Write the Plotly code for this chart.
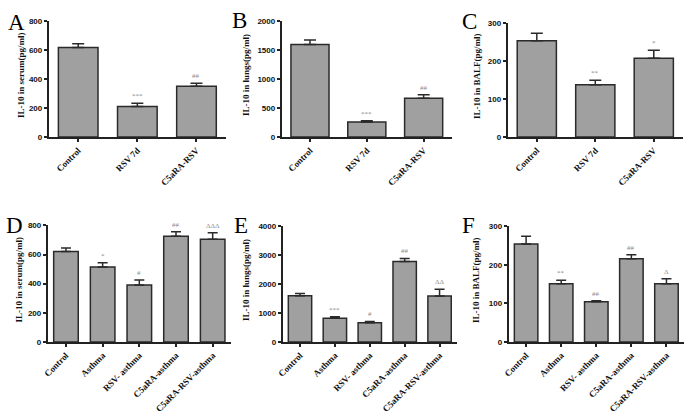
import plotly.graph_objects as go

cats_top = ["Control", "RSV 7d", "C5aRA-RSV"]
cats_bot = ["Control", "Asthma", "RSV- asthma", "C5aRA-asthma", "C5aRA-RSV-asthma"]

a_vals = [620, 212, 352]
a_err = [25, 22, 20]
a_sig = ["", "***", "##"]

b_vals = [1600, 258, 670]
b_err = [80, 25, 60]
b_sig = ["", "***", "##"]

c_vals = [254, 138, 208]
c_err = [20, 12, 21]
c_sig = ["", "**", "*"]

d_vals = [620, 515, 390, 725, 705]
d_err = [25, 28, 35, 32, 45]
d_sig = ["", "*", "#", "##", "ΔΔΔ"]

e_vals = [1600, 820, 660, 2780, 1590]
e_err = [80, 50, 50, 110, 230]
e_sig = ["", "***", "#", "##", "ΔΔ"]

f_vals = [254, 151, 104, 216, 151]
f_err = [20, 9, 3, 10, 13]
f_sig = ["", "**", "##", "##", "Δ"]

y_titles = ["IL-10 in serum(pg/ml)", "IL-10 in lungs(pg/ml)", "IL-10 in BALF(pg/ml)",
            "IL-10 in serum(pg/ml)", "IL-10 in lungs(pg/ml)", "IL-10 in BALF(pg/ml)"]
letters = ["A", "B", "C", "D", "E", "F"]
y_ranges = [800, 2000, 300, 800, 4000, 300]
y_dticks = [200, 500, 100, 200, 1000, 100]

W, H = 685, 414
# pixel layout: (x0, x1, ybottom, ytop)
boxes = [(43, 222, 137, 18), (278, 450, 137, 18), (506, 683, 137, 20),
         (42, 227, 348, 228), (279, 455, 348, 229), (507, 684, 348, 229)]
title_off = [28, 36, 31, 29, 37, 33]
letter_pos = [(0, 4), (226, 2), (458, 3), (-2, 213), (228, 213), (458, 213)]

panels = [(cats_top, a_vals, a_err, a_sig), (cats_top, b_vals, b_err, b_sig),
          (cats_top, c_vals, c_err, c_sig), (cats_bot, d_vals, d_err, d_sig),
          (cats_bot, e_vals, e_err, e_sig), (cats_bot, f_vals, f_err, f_sig)]

fig = go.Figure()
annotations = []
serif = "Liberation Serif, Times New Roman, serif"
sans = "Liberation Sans, Arial, sans-serif"

for i, (cats, vals, errs, sigs) in enumerate(panels):
    n = i + 1
    xa = "x" if n == 1 else f"x{n}"
    ya = "y" if n == 1 else f"y{n}"
    fig.add_trace(go.Bar(
        x=cats, y=vals, xaxis=xa, yaxis=ya, width=0.67,
        marker=dict(color="#a0a0a0", line=dict(color="#2a2a2a", width=1.5)),
        error_y=dict(type="data", array=errs, arrayminus=[0] * len(errs),
                     color="#2a2a2a", thickness=1.5, width=6 if len(cats) == 3 else 5),
        showlegend=False, hoverinfo="x+y"))
    x0, x1, yb, yt = boxes[i]
    xd = [x0 / W, x1 / W]
    yd = [1 - yb / H, 1 - yt / H]
    key = "" if n == 1 else str(n)
    fig.layout["xaxis" + key] = dict(
        domain=xd, anchor=ya, type="category", range=[-0.5, len(cats) - 0.5],
        showline=True, linecolor="#222", linewidth=1.5, ticks="outside",
        ticklen=3, tickwidth=1.5, tickcolor="#222", tickangle=-45,
        tickfont=dict(family=serif, size=9, color="#111", weight="bold"),
        showgrid=False, zeroline=False, fixedrange=True)
    fig.layout["yaxis" + key] = dict(
        domain=yd, anchor=xa, range=[0, y_ranges[i]], dtick=y_dticks[i],
        showline=True, linecolor="#222", linewidth=1.5, ticks="outside",
        ticklen=3, tickwidth=1.5, tickcolor="#222",
        tickfont=dict(family=sans, size=8, color="#111", weight="bold"),
        showgrid=False, zeroline=False, fixedrange=True)
    # y title
    annotations.append(dict(
        x=(x0 - title_off[i]) / W, y=(yd[0] + yd[1]) / 2 + 0.01, xref="paper", yref="paper",
        text=y_titles[i], textangle=-90, showarrow=False,
        font=dict(family=serif, size=9, color="#111", weight="bold"),
        xanchor="center", yanchor="middle"))
    # letters
    lx, ly = letter_pos[i]
    annotations.append(dict(
        x=lx / W, y=1 - ly / H, xref="paper", yref="paper", text=letters[i],
        showarrow=False, xanchor="left", yanchor="top",
        font=dict(family=serif, size=23, color="#000")))
    # significance marks
    for c, v, e, s in zip(cats, vals, errs, sigs):
        if s:
            annotations.append(dict(
                x=c, y=v + e, xref=xa, yref=ya, text=s, showarrow=False,
                yanchor="bottom", yshift=1,
                font=dict(family=serif, size=7, color="#8a8a8a")))

fig.update_layout(
    width=W, height=H, margin=dict(l=0, r=0, t=0, b=0),
    paper_bgcolor="white", plot_bgcolor="white",
    annotations=annotations, bargap=0.33)

fig.write_html("out.html", config={"displayModeBar": False},
               post_script="document.body.style.margin='0';document.body.style.overflow='hidden';")
